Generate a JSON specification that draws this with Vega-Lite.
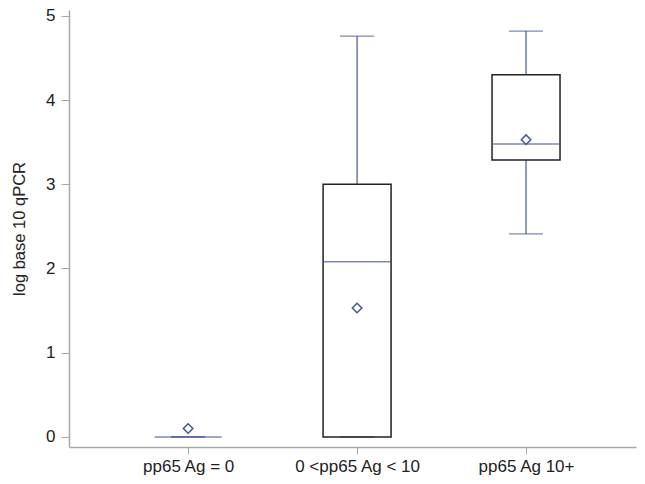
{
  "$schema": "https://vega.github.io/schema/vega-lite/v6.json",
  "width": 567,
  "height": 437,
  "autosize": {"type": "none"},
  "padding": {"left": 69, "top": 10, "right": 9, "bottom": 37},
  "background": "white",
  "config": {
    "view": {"stroke": null},
    "font": "Liberation Sans",
    "axis": {
      "grid": false,
      "domainColor": "#a8a8a8",
      "domainWidth": 1.5,
      "tickColor": "#a8a8a8",
      "tickWidth": 1,
      "labelFontSize": 17,
      "labelColor": "#222222",
      "titleFontSize": 16.5,
      "titleFontWeight": "normal",
      "titleColor": "#222222"
    }
  },
  "data": {
    "values": [
      {"group": "pp65 Ag = 0", "min": 0, "q1": 0, "median": 0, "q3": 0, "max": 0, "mean": 0.1},
      {"group": "0 <pp65 Ag < 10", "min": 0, "q1": 0, "median": 2.08, "q3": 3.0, "max": 4.76, "mean": 1.53},
      {"group": "pp65 Ag 10+", "min": 2.41, "q1": 3.29, "median": 3.48, "q3": 4.3, "max": 4.82, "mean": 3.53}
    ]
  },
  "encoding": {
    "x": {
      "field": "group",
      "type": "nominal",
      "sort": null,
      "scale": {"type": "point", "padding": 0.678, "align": 0.52},
      "axis": {"title": null, "labelAngle": 0, "tickSize": 7, "labelPadding": 4}
    }
  },
  "layer": [
    {
      "mark": {"type": "rule", "color": "#445694", "strokeWidth": 1.2},
      "encoding": {
        "y": {
          "field": "min",
          "type": "quantitative",
          "scale": {"domain": [-0.12, 5.07], "nice": false, "zero": false},
          "axis": {"title": "log base 10 qPCR", "values": [0, 1, 2, 3, 4, 5], "format": "d", "tickSize": 8, "labelPadding": 6, "titlePadding": 18}
        },
        "y2": {"field": "q1"}
      }
    },
    {
      "mark": {"type": "rule", "color": "#445694", "strokeWidth": 1.2},
      "encoding": {
        "y": {"field": "q3", "type": "quantitative"},
        "y2": {"field": "max"}
      }
    },
    {
      "mark": {"type": "tick", "color": "#445694", "size": 34, "thickness": 1.2},
      "encoding": {"y": {"field": "min", "type": "quantitative"}}
    },
    {
      "mark": {"type": "tick", "color": "#445694", "size": 34, "thickness": 1.2},
      "encoding": {"y": {"field": "max", "type": "quantitative"}}
    },
    {
      "transform": [{"filter": "datum.q3 > datum.q1"}],
      "mark": {"type": "bar", "size": 68, "fill": "white", "fillOpacity": 0, "stroke": "#222222", "strokeWidth": 1.5},
      "encoding": {
        "y": {"field": "q1", "type": "quantitative"},
        "y2": {"field": "q3"}
      }
    },
    {
      "mark": {"type": "tick", "color": "#445694", "size": 67, "thickness": 1.5},
      "encoding": {"y": {"field": "median", "type": "quantitative"}}
    },
    {
      "mark": {"type": "point", "shape": "diamond", "filled": false, "color": "#445694", "size": 90, "strokeWidth": 1.5, "opacity": 1},
      "encoding": {"y": {"field": "mean", "type": "quantitative"}}
    }
  ]
}
